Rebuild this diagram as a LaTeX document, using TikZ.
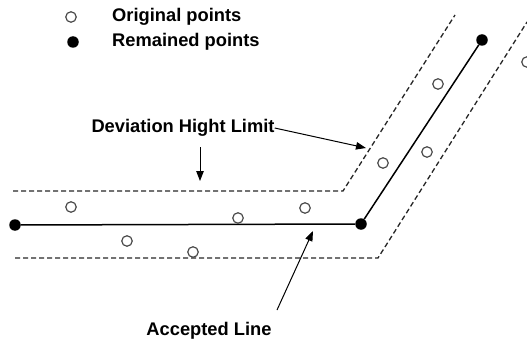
\documentclass[tikz,border=0pt]{standalone}
\usepackage{fontspec}
\setmainfont{Liberation Sans}
\usetikzlibrary{arrows.meta}
\begin{document}
\begin{tikzpicture}[x=1pt,y=-1pt,
  opt/.style={circle,draw=black!70,line width=1.2pt,fill=white,inner sep=0pt,minimum size=10.5pt},
  rem/.style={circle,fill=black,inner sep=0pt,minimum size=11.5pt},
  lbl/.style={font=\fontsize{18.3}{21}\selectfont\bfseries,inner sep=0pt},
  lim/.style={dash pattern=on 5pt off 3pt,line width=1.3pt,black!85},
  acc/.style={line width=1.5pt},
  pt/.style={-{Triangle[length=10pt,width=7.5pt]},line width=1pt}]
\useasboundingbox (0,0) rectangle (527,342);
% legend
\node[opt] (lo) at (71,17) {};
\node[lbl,anchor=west] (lot) at (112,17) {Original points};
\node[rem] (lr) at (73,42) {};
\node[lbl,anchor=west] (lrt) at (112,42) {Remained points};
% limits
\coordinate (u1) at (13,191);
\coordinate (u2) at (343,191);
\coordinate (u3) at (455,15);
\coordinate (d1) at (15,258);
\coordinate (d2) at (378,258);
\coordinate (d3) at (527,22);
\draw[lim] (u1) -- (u2) -- (u3);
\draw[lim] (d1) -- (d2) -- (d3);
% accepted line
\node[rem] (r1) at (15,225) {};
\node[rem] (r2) at (361,224) {};
\node[rem] (r3) at (482,40) {};
\draw[acc] (r1) -- (r2) -- (r3);
% original points
\node[opt] (o1) at (71,207) {};
\node[opt] (o2) at (127,241) {};
\node[opt] (o3) at (193,252) {};
\node[opt] (o4) at (238,218) {};
\node[opt] (o5) at (305,208) {};
\node[opt] (o6) at (383,163) {};
\node[opt] (o7) at (427,152) {};
\node[opt] (o8) at (438,84) {};
\node[opt] (o9) at (527,62) {};
% labels
\node[lbl] (dev) at (183,128) {Deviation Hight Limit};
\coordinate (da) at (200,147);
\coordinate (db) at (200,181);
\draw[pt] (da) -- (db);
\coordinate (dc) at (366,148);
\draw[pt] (dev.east) -- (dc);
\node[lbl] (al) at (209,331) {Accepted Line};
\coordinate (aa) at (277,310);
\coordinate (ab) at (313,231);
\draw[pt] (aa) -- (ab);
\end{tikzpicture}
\end{document}
